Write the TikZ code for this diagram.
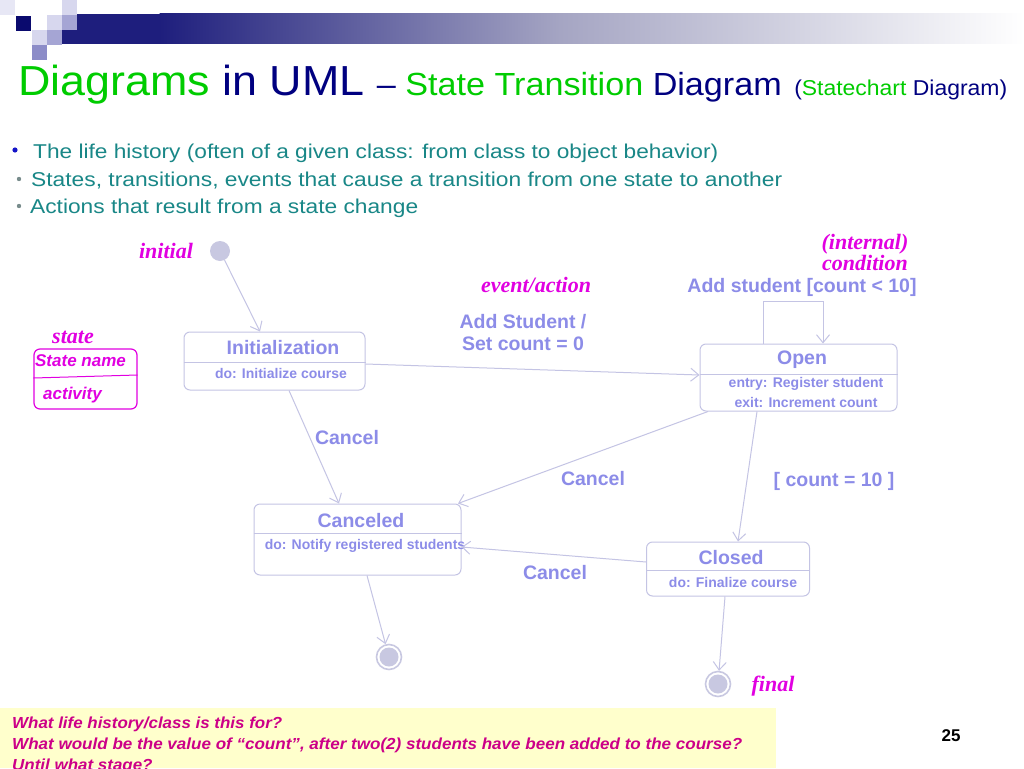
\documentclass[tikz,border=0pt]{standalone}
\usepackage{fontspec}
\usepackage{graphicx}
\setmainfont{Liberation Sans}
\newfontfamily\tms{Liberation Serif}
\usetikzlibrary{arrows.meta}
\definecolor{boxline}{RGB}{196,196,228}
\definecolor{boxtext}{RGB}{140,140,232}
\definecolor{dotfill}{RGB}{200,200,225}
\definecolor{mag}{RGB}{225,0,225}
\definecolor{qmag}{RGB}{204,0,136}
\definecolor{tgreen}{RGB}{0,204,0}
\definecolor{tnavy}{RGB}{0,0,128}
\definecolor{bteal}{RGB}{25,135,135}
\definecolor{bandnavy}{RGB}{30,30,125}
\definecolor{bandmid}{RGB}{165,165,195}
\definecolor{sqlight}{RGB}{215,215,238}
\definecolor{sqmid}{RGB}{165,165,212}
\definecolor{sqdark}{RGB}{140,140,200}
\definecolor{navysq}{RGB}{10,10,110}
\definecolor{yell}{RGB}{255,255,204}
\definecolor{bulblue}{RGB}{20,20,200}
\definecolor{bulgray}{RGB}{120,140,140}
\newcommand{\fsz}[1]{\fontsize{#1}{#1}\selectfont}
\newcommand{\fitw}[2]{\resizebox{#1}{\height}{#2}}
\begin{document}
\begin{tikzpicture}[x=1pt,y=-1pt,
  statebox/.style={draw=boxline, line width=1pt, rounded corners=6pt, inner sep=0pt},
  divline/.style={draw=boxline, line width=1pt},
  tr/.style={draw=boxline, line width=1pt, -{Straight Barb[length=8pt,width=13pt]}},
  btitle/.style={text=boxtext, font={\fsz{19.5}\bfseries}, inner sep=0pt},
  bsub/.style={text=boxtext, font={\fsz{14}\bfseries}, inner sep=0pt},
  elabel/.style={text=boxtext, font={\fsz{19.5}\bfseries}, inner sep=0pt},
  mlabel/.style={text=mag, font={\tms\fsz{22}\bfseries\itshape}, inner sep=0pt},
  plain/.style={anchor=base west, inner sep=0pt},
  initdot/.style={circle, fill=dotfill, minimum size=20pt, inner sep=0pt},
  finring/.style={circle, draw=dotfill, line width=1.6pt, minimum size=25pt, inner sep=0pt}]
\useasboundingbox (0,0) rectangle (1024,768);
\clip (0,0) rectangle (1024,768);
\fill[white] (0,0) rectangle (1024,768);
% header band
\fill[bandnavy] (62,14) rectangle (160,44);
\shade[left color=bandnavy, right color=bandmid] (159.5,14) rectangle (560,44);
\shade[left color=bandmid, right color=white] (559.5,14) rectangle (1024,44);
% squares
\fill[sqlight!60!white] (0,0) rectangle (15,15);
\fill[navysq] (16,16) rectangle (31,31);
\fill[sqlight] (62,0) rectangle (77,15);
\fill[sqlight] (47,15) rectangle (62,30);
\fill[sqmid] (62,15) rectangle (77,30);
\fill[sqlight] (32,30) rectangle (47,45);
\fill[sqmid] (47,30) rectangle (62,45);
\fill[sqdark] (32,45) rectangle (47,60);
% title
\node[plain] (title) at (18,95) {\fitw{989pt}{\fsz{42}\color{tgreen}Diagrams \color{tnavy}in UML {\fsz{32}\color{tnavy}– \color{tgreen}State Transition \color{tnavy}Diagram} {\fsz{21.5}\color{tnavy}(\color{tgreen}Statechart \color{tnavy}Diagram)}}};
% bullets
\fill[bulblue] (15,150) circle (2.6);
\fill[bulgray] (19,179) circle (2.2);
\fill[bulgray] (19,206) circle (2.2);
\node[plain] (b1) at (33,158) {\fitw{685pt}{\fsz{20}\color{bteal}The life history (often of a given class: from class to object behavior)}};
\node[plain] (b2) at (31,186) {\fitw{751pt}{\fsz{20}\color{bteal}States, transitions, events that cause a transition from one state to another}};
\node[plain] (b3) at (30,213) {\fitw{388pt}{\fsz{20}\color{bteal}Actions that result from a state change}};
% legend
\node[mlabel] (lstate) at (73,337) {state};
\node[draw=mag, line width=1.2pt, rounded corners=6pt, minimum width=103pt, minimum height=60pt, inner sep=0pt] (leg) at (85.5,379) {};
\draw[mag, line width=1pt] (leg.west |- 0,378) -- (leg.east |- 0,375);
\node[text=mag, font={\fsz{17}\bfseries\itshape}, inner sep=0pt] (legN) at (80.5,361) {State name};
\node[text=mag, font={\fsz{17}\bfseries\itshape}, inner sep=0pt] (legA) at (72.5,395) {activity};
% initial
\node[initdot] (ini) at (220,251) {};
\node[mlabel] (linit) at (166,251) {initial};
% Initialization
\node[statebox, minimum width=181pt, minimum height=58pt] (init) at (274.5,361) {};
\draw[divline] (init.west |- 0,362) -- (init.east |- 0,362);
\node[btitle] (initT) at (283,348) {Initialization};
\node[bsub] (initA) at (281,373) {do: Initialize course};
% Open
\node[statebox, minimum width=197pt, minimum height=67pt] (open) at (798.5,377.5) {};
\draw[divline] (open.west |- 0,374) -- (open.east |- 0,374);
\node[btitle] (openT) at (802,360) {Open};
\node[bsub] (openA) at (806,384) {entry: Register student};
\node[bsub] (openB) at (806,402) {exit: Increment count};
% Canceled
\node[statebox, minimum width=207pt, minimum height=71pt] (canc) at (357.5,539.5) {};
\draw[divline] (canc.west |- 0,533) -- (canc.east |- 0,533);
\node[btitle] (cancT) at (361,521) {Canceled};
\node[bsub] (cancA) at (365,546) {do: Notify registered students};
% Closed
\node[statebox, minimum width=163pt, minimum height=54pt] (closed) at (728,569) {};
\draw[divline] (closed.west |- 0,570) -- (closed.east |- 0,570);
\node[btitle] (closedT) at (731,558) {Closed};
\node[bsub] (closedA) at (733,582) {do: Finalize course};
% finals
\node[finring] (fin1) at (389,657) {};
\fill[dotfill] (fin1) circle (9.5);
\node[finring] (fin2) at (718,684) {};
\fill[dotfill] (fin2) circle (9.5);
\node[mlabel] (lfinal) at (773,686) {final};
% transitions
\draw[tr] (ini) -- (init.north -| 260,0);
\draw[tr] (init.east |- 0,364) -- (open.west |- 0,375);
\draw[tr] (init.south -| 289,0) -- (canc.north -| 339,0);
\draw[tr] (open.south -| 708,0) -- (canc.north -| 458,0);
\draw[tr] (open.south -| 757,0) -- (closed.north -| 738,0);
\draw[tr] (closed.west |- 0,562) -- (canc.east |- 0,547);
\draw[tr] (canc.south -| 367,0) -- (fin1);
\draw[tr] (closed.south -| 725,0) -- (fin2);
\coordinate (loopL) at (763,301);
\coordinate (loopR) at (823,301);
\draw[tr] (open.north -| loopL) -- (loopL) -- (loopR) -- (open.north -| loopR);
% labels
\node[mlabel] (levent) at (536,285) {event/action};
\node[elabel] (lev1) at (523,322) {Add Student /};
\node[elabel] (lev2) at (523,344) {Set count = 0};
\node[mlabel] (lint) at (865,244) {(internal)};
\node[mlabel] (lcond) at (865,263) {condition};
\node[elabel] (lself) at (802,287) {Add student [count < 10]};
\node[elabel] (lc1) at (347,438) {Cancel};
\node[elabel] (lc2) at (593,479) {Cancel};
\node[elabel] (lc3) at (555,573) {Cancel};
\node[elabel] (lcount) at (834,481) {[ count = 10 ]};
% bottom box
\fill[yell] (0,708) rectangle (776,768);
\node[plain] (q1) at (12,728) {\fitw{270pt}{\fsz{16}\bfseries\itshape\color{qmag}What life history/class is this for?}};
\node[plain] (q2) at (12,749) {\fitw{730pt}{\fsz{16}\bfseries\itshape\color{qmag}What would be the value of “count”, after two(2) students have been added to the course?}};
\node[plain] (q3) at (12,770) {\scalebox{1.06}[1]{\fsz{16}\bfseries\itshape\color{qmag}Until what stage?}};
\node[text=black, font={\fsz{17}\bfseries}, inner sep=0pt] (pnum) at (951,736) {25};
\end{tikzpicture}
\end{document}
